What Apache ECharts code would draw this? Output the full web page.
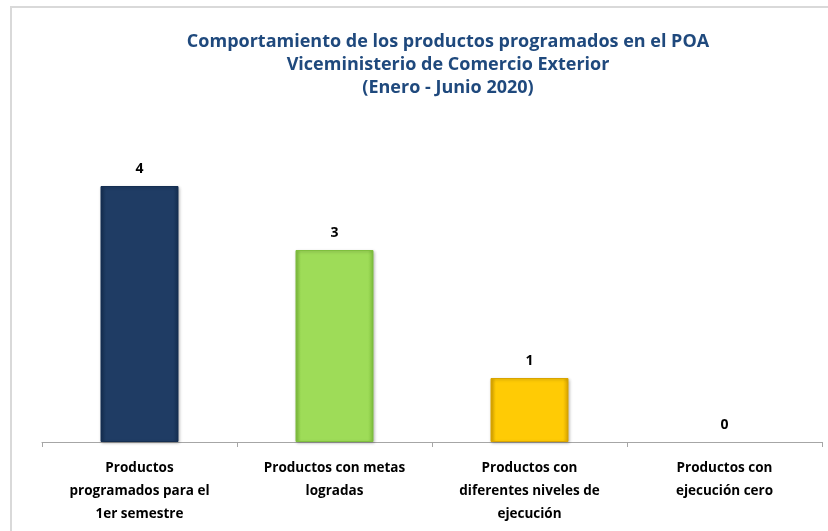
<!DOCTYPE html>
<html>
<head>
<meta charset="utf-8">
<script src="https://cdn.jsdelivr.net/npm/echarts@6/dist/echarts.min.js"></script>
<style>
  html, body { margin: 0; padding: 0; background: #fff; }
  #main { width: 828px; height: 531px; }
</style>
</head>
<body>
<div id="main"></div>
<script>
// datos
var categorias = [
  'Productos\nprogramados para el\n1er semestre',
  'Productos con metas\nlogradas',
  'Productos con\ndiferentes niveles de\nejecución',
  'Productos con\nejecución cero'
]
var valores = [4, 3, 1, 0]
var colores = [
  ['#152f52', '#1f3c64'],
  ['#7fbf3e', '#9edc58'],
  ['#d9a400', '#ffcb05'],
  ['#c9c9c9', '#dddddd']
]

function relleno(c) {
  return {
    type: 'linear', x: 0, y: 0, x2: 1, y2: 0,
    colorStops: [
      { offset: 0, color: c[0] },
      { offset: 0.07, color: c[1] },
      { offset: 0.93, color: c[1] },
      { offset: 1, color: c[0] }
    ]
  }
}

var chart = echarts.init(document.getElementById('main'))
chart.setOption({
  backgroundColor: '#fff',
  animation: false,
  graphic: [{
    type: 'rect',
    shape: { x: 11, y: 7, width: 840, height: 540 },
    style: { fill: 'none', stroke: '#d9d9d9', lineWidth: 2 }
  }],
  title: {
    text: 'Comportamiento de los productos programados en el POA\nViceministerio de Comercio Exterior\n(Enero - Junio 2020)',
    left: 443,
    top: 25,
    textAlign: 'center',
    textStyle: {
      fontFamily: 'Open Sans',
      fontSize: 18,
      fontWeight: 'bold',
      color: '#1f497d',
      lineHeight: 23
    }
  },
  grid: { left: 42, right: 6, top: 122, bottom: 89 },
  xAxis: {
    type: 'category',
    data: categorias,
    axisLine: { lineStyle: { color: '#a6a6a6', width: 1 } },
    axisTick: { show: true, length: 5, lineStyle: { color: '#a6a6a6' } },
    axisLabel: {
      interval: 0,
      margin: 15,
      color: '#000',
      fontFamily: 'Open Sans',
      fontWeight: 'bold',
      fontSize: 13.5,
      lineHeight: 23,
      align: 'center'
    }
  },
  yAxis: {
    type: 'value',
    min: 0,
    max: 5,
    show: false,
    splitLine: { show: false }
  },
  series: [{
    type: 'bar',
    barWidth: 78,
    data: valores.map(function (v, i) {
      if (v === 0) {
        return { value: v, itemStyle: { color: 'rgba(0,0,0,0)' } }
      }
      return {
        value: v,
        itemStyle: {
          color: relleno(colores[i]),
          borderColor: colores[i][0],
          borderWidth: 1,
          shadowColor: 'rgba(0,0,0,0.25)',
          shadowBlur: 3,
          shadowOffsetX: 1,
          shadowOffsetY: 1
        }
      }
    }),
    label: {
      show: true,
      position: 'top',
      distance: 10,
      color: '#000',
      fontFamily: 'Open Sans',
      fontWeight: 'bold',
      fontSize: 14
    }
  }]
})
</script>
</body>
</html>
